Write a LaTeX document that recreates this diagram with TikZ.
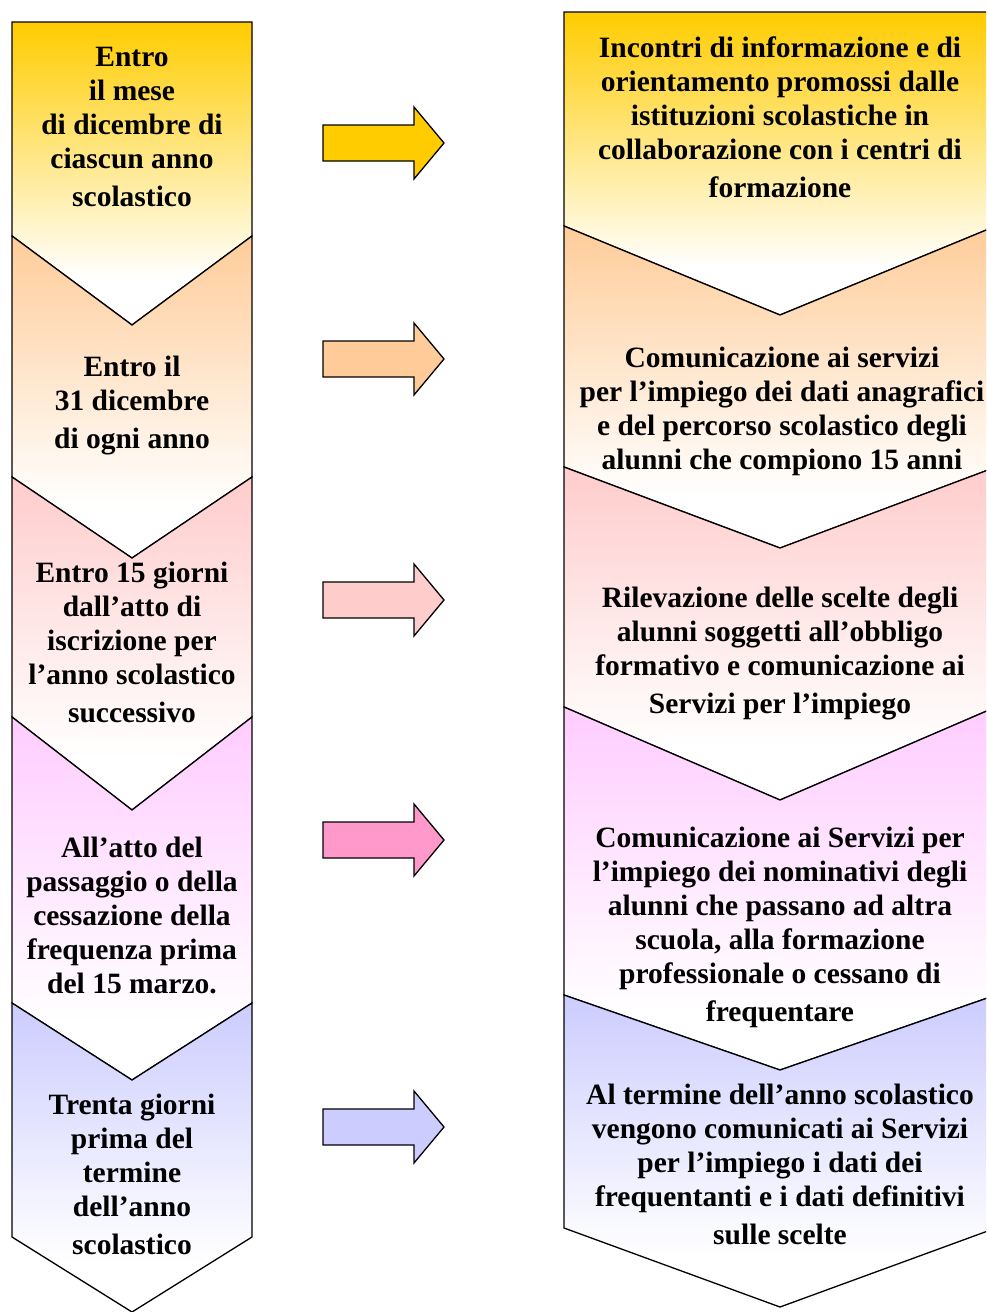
\documentclass[tikz,border=0pt]{standalone}
\usepackage{fontspec}
\setmainfont{Liberation Serif}
\definecolor{gold}{HTML}{FFCC00}
\definecolor{peach}{HTML}{FFCC99}
\definecolor{rose}{HTML}{FFCCCC}
\definecolor{lilac}{HTML}{FFCCFF}
\definecolor{periwinkle}{HTML}{CCCCFF}
\definecolor{pinkarrow}{HTML}{FF99CC}
% colour at the top of each band, fading to white towards its lower point
\pgfdeclareverticalshading{fadegold}{100bp}{color(0bp)=(white); color(33bp)=(white); color(75bp)=(gold); color(100bp)=(gold)}
\pgfdeclareverticalshading{fadepeach}{100bp}{color(0bp)=(white); color(33bp)=(white); color(75bp)=(peach); color(100bp)=(peach)}
\pgfdeclareverticalshading{faderose}{100bp}{color(0bp)=(white); color(33bp)=(white); color(75bp)=(rose); color(100bp)=(rose)}
\pgfdeclareverticalshading{fadelilac}{100bp}{color(0bp)=(white); color(33bp)=(white); color(75bp)=(lilac); color(100bp)=(lilac)}
\pgfdeclareverticalshading{fadeperi}{100bp}{color(0bp)=(white); color(33bp)=(white); color(75bp)=(periwinkle); color(100bp)=(periwinkle)}
\begin{document}
\begin{tikzpicture}[x=1pt,y=-1pt,
  outline/.style={draw=black, line width=1.3pt, line join=miter},
  steptext/.style={align=center, inner sep=0pt, font=\fontsize{29.5}{34}\selectfont\bfseries},
  pics/blockarrow/.style={code={
    \draw[outline, fill=#1] (0,-18) -- (91,-18) -- (91,-36) -- (121,0) -- (91,36) -- (91,18) -- (0,18) -- cycle;}}
]
\useasboundingbox (0,0) rectangle (986,1312);
\clip (0,0) rectangle (986,1312);

% left column: dates
\path[outline, shading=fadegold]  (12,22) -- (252,22) -- (252,236) -- (132,325) -- (12,236) -- cycle;
\path[outline, shading=fadepeach] (12,236) -- (132,325) -- (252,236) -- (252,477) -- (132,558) -- (12,477) -- cycle;
\path[outline, shading=faderose]  (12,477) -- (132,558) -- (252,477) -- (252,717) -- (132,810) -- (12,717) -- cycle;
\path[outline, shading=fadelilac] (12,717) -- (132,810) -- (252,717) -- (252,1003) -- (132,1080) -- (12,1003) -- cycle;
\path[outline, shading=fadeperi]  (12,1003) -- (132,1080) -- (252,1003) -- (252,1237) -- (132,1312) -- (12,1237) -- cycle;

% right column: actions
\path[outline, shading=fadegold]  (564,12) -- (996,12) -- (996,226) -- (780,315) -- (564,226) -- cycle;
\path[outline, shading=fadepeach] (564,226) -- (780,315) -- (996,226) -- (996,467) -- (780,548) -- (564,467) -- cycle;
\path[outline, shading=faderose]  (564,467) -- (780,548) -- (996,467) -- (996,707) -- (780,800) -- (564,707) -- cycle;
\path[outline, shading=fadelilac] (564,707) -- (780,800) -- (996,707) -- (996,995) -- (780,1070) -- (564,995) -- cycle;
\path[outline, shading=fadeperi]  (564,995) -- (780,1070) -- (996,995) -- (996,1228) -- (780,1307) -- (564,1228) -- cycle;

% block arrows between the columns
\pic at (323,143)  {blockarrow=gold};
\pic at (323,359)  {blockarrow=peach};
\pic at (323,600)  {blockarrow=rose};
\pic at (323,840)  {blockarrow=pinkarrow};
\pic at (323,1127) {blockarrow=periwinkle};

% texts
\node[steptext] (l1) at (132,126.5) {Entro\\il mese\\di dicembre di\\ciascun anno\\[4pt]scolastico};
\node[steptext] (l2) at (132,406) {Entro il\\31 dicembre\\[4pt]di ogni anno};
\node[steptext] (l3) at (132,642) {Entro 15 giorni\\dall’atto di\\iscrizione per\\l’anno scolastico\\[4pt]successivo};
\node[steptext] (l4) at (132,915) {All’atto del\\passaggio o della\\cessazione della\\frequenza prima\\del 15 marzo.};
\node[steptext] (l5) at (132,1174) {Trenta giorni\\prima del\\termine\\dell’anno\\[4pt]scolastico};

\node[steptext] (r1) at (780,117) {Incontri di informazione e di\\orientamento promossi dalle\\istituzioni scolastiche in\\collaborazione con i centri di\\[4pt]formazione};
\node[steptext] (r2) at (782,411.5) {Comunicazione ai servizi\\per l’impiego dei dati anagrafici\\e del percorso scolastico degli\\alunni che compiono 15 anni};
\node[steptext] (r3) at (780,654) {Rilevazione delle scelte degli\\alunni soggetti all’obbligo\\formativo e comunicazione ai\\[4pt]Servizi per l’impiego};
\node[steptext] (r4) at (780,927) {Comunicazione ai Servizi per\\l’impiego dei nominativi degli\\alunni che passano ad altra\\scuola, alla formazione\\professionale o cessano di\\[4pt]frequentare};
\node[steptext] (r5) at (780,1164) {Al termine dell’anno scolastico\\vengono comunicati ai Servizi\\per l’impiego i dati dei\\frequentanti e i dati definitivi\\[4pt]sulle scelte};
\end{tikzpicture}
\end{document}
